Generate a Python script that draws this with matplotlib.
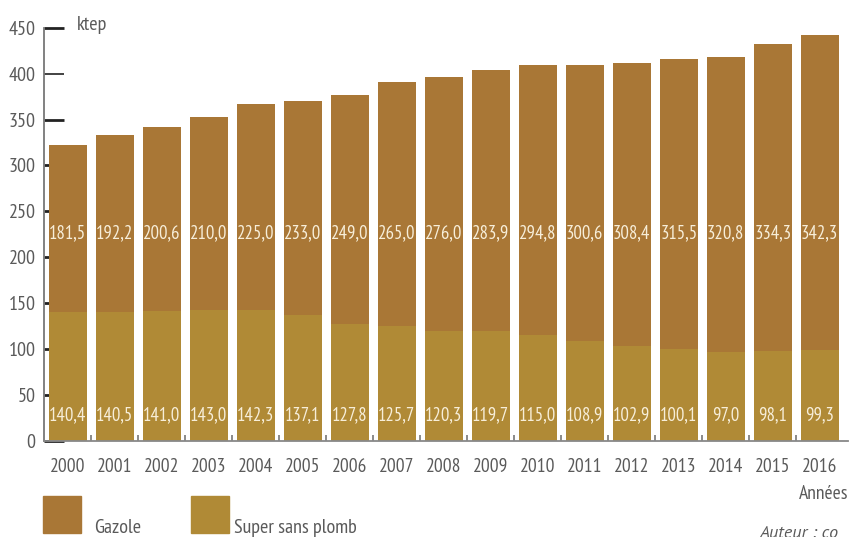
import numpy as np
import matplotlib.pyplot as plt
import matplotlib.patches as mpatches

'''
Data
'''
years = ['2000', '2001', '2002', '2003', '2004', '2005', '2006', '2007', '2008',
         '2009', '2010', '2011', '2012', '2013', '2014', '2015', '2016']
super_sp = [140.4, 140.5, 141.0, 143.0, 142.3, 137.1, 127.8, 125.7, 120.3,
            119.7, 115.0, 108.9, 102.9, 100.1, 97.0, 98.1, 99.3]
gazole = [181.5, 192.2, 200.6, 210.0, 225.0, 233.0, 249.0, 265.0, 276.0,
          283.9, 294.8, 300.6, 308.4, 315.5, 320.8, 334.3, 342.3]
yticks = [0, 50, 100, 150, 200, 250, 300, 350, 400, 450]

'''
Style
'''
plt.rcParams['font.family'] = ['PT Sans Narrow', 'DejaVu Sans']
c_gaz = '#A97736'
c_sup = '#B08A36'
c_txt = '#5a5a5a'
c_lab = '#F7EED9'

fig = plt.figure(figsize=(8.49, 5.37), dpi=100)
ax = fig.add_axes([44/849, 1-441/537, 804/849, (441-27.7)/537])

x = np.arange(len(years))
ax.bar(x, super_sp, width=0.81, color=c_sup, zorder=2)
ax.bar(x, gazole, width=0.81, bottom=super_sp, color=c_gaz, zorder=2)

def fmt(v): return '{:.1f}'.format(v).replace('.', ',')

for i in range(len(years)):
    ax.text(x[i], 28, fmt(super_sp[i]), ha='center', va='center', color=c_lab, fontsize=13.5, zorder=3)
    ax.text(x[i], 226, fmt(gazole[i]), ha='center', va='center', color=c_lab, fontsize=13.5, zorder=3)

ax.set_xlim(-0.51, 16.6)
ax.set_ylim(0, 450)
ax.set_yticks(yticks)
ax.set_xticks(x)
ax.set_xticklabels(years)
ax.set_xticks(x[:-1] + 0.5, minor=True)

for s in ['top', 'right']:
    ax.spines[s].set_visible(False)
ax.spines['left'].set_color('#777777')
ax.spines['bottom'].set_color('#888888')
ax.spines['left'].set_linewidth(1.3)
ax.spines['bottom'].set_linewidth(1.3)
ax.spines['left'].set_zorder(4)
ax.spines['bottom'].set_zorder(4)

ax.tick_params(axis='y', direction='in', length=14.4, width=2, color='#222222',
               labelsize=14.5, labelcolor=c_txt, pad=6)
ax.tick_params(axis='x', which='major', length=0, labelsize=14, labelcolor=c_txt, pad=12)
ax.tick_params(axis='x', which='minor', direction='in', length=4, width=1.2, color='#777777')
for t in ax.yaxis.get_major_ticks():
    t.tick1line.set_zorder(1)
ax.yaxis.get_major_ticks()[8].tick1line.set_color('#888888')
ax.yaxis.get_major_ticks()[8].tick1line.set_markeredgewidth(1.2)

'''
Annotations
'''
fig.text(77/849, 1-25/537, 'ktep', ha='left', va='center', color=c_txt, fontsize=14.5)
fig.text(848/849, 1-494/537, 'Années', ha='right', va='center', color=c_txt, fontsize=14)
fig.text(760/849, 1-526/537, 'Auteur : co', ha='left', va='top', color=c_txt, fontsize=13,
         style='italic', family=['PT Sans', 'DejaVu Sans'])

fig.patches.append(mpatches.Rectangle((43/849, 1-533/537), 38/849, 37/537, color=c_gaz, transform=fig.transFigure))
fig.patches.append(mpatches.Rectangle((191/849, 1-533/537), 38/849, 37/537, color=c_sup, transform=fig.transFigure))
fig.text(94/849, 1-533/537, 'Gazole', ha='left', va='baseline', color=c_txt, fontsize=14.5)
fig.text(234/849, 1-533/537, 'Super sans plomb', ha='left', va='baseline', color=c_txt, fontsize=14.5)

fig.savefig('out.png', dpi=100)
